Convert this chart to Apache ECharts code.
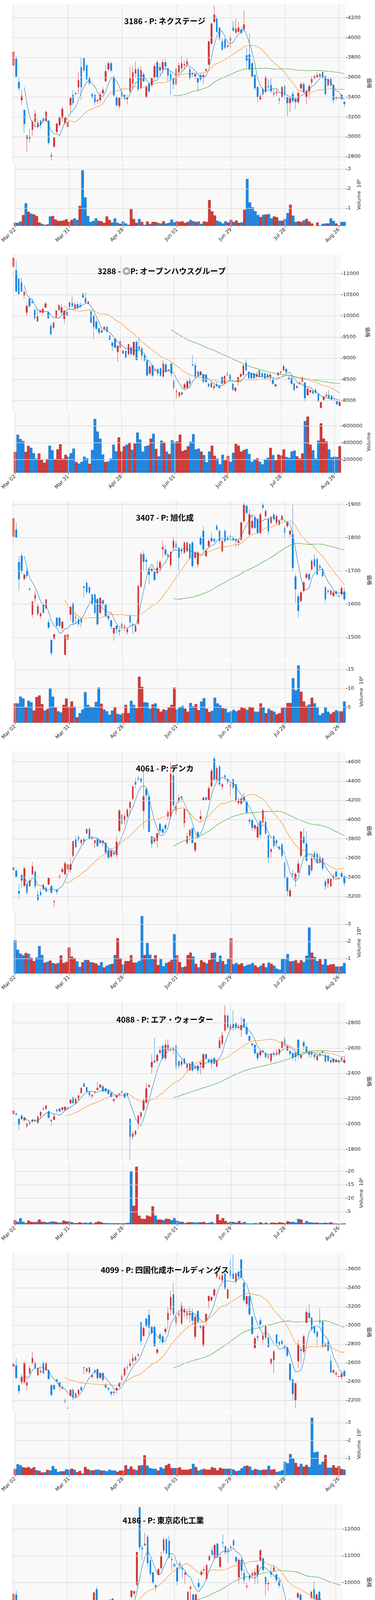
<!DOCTYPE html>
<html><head><meta charset="utf-8">
<script src="https://cdn.jsdelivr.net/npm/echarts@6/dist/echarts.min.js"></script>
<style>html,body{margin:0;padding:0;background:#fff}#c{width:960px;height:6405px}</style>
</head><body><div id="c"></div>
<script>
// ---------- DATA ----------
const dates = [
'Mar 02','Mar 03','Mar 04','Mar 07','Mar 08','Mar 09','Mar 10','Mar 11','Mar 14','Mar 15','Mar 16','Mar 17','Mar 18','Mar 22','Mar 23','Mar 24','Mar 25','Mar 28','Mar 29','Mar 30','Mar 31',
'Apr 01','Apr 04','Apr 05','Apr 06','Apr 07','Apr 08','Apr 11','Apr 12','Apr 13','Apr 14','Apr 15','Apr 18','Apr 19','Apr 20','Apr 21','Apr 22','Apr 25','Apr 26','Apr 27','Apr 28',
'May 02','May 06','May 09','May 10','May 11','May 12','May 13','May 16','May 17','May 18','May 19','May 20','May 23','May 24','May 25','May 26','May 27','May 30','May 31',
'Jun 01','Jun 02','Jun 03','Jun 06','Jun 07','Jun 08','Jun 09','Jun 10','Jun 13','Jun 14','Jun 15','Jun 16','Jun 17','Jun 20','Jun 21','Jun 22','Jun 23','Jun 24','Jun 27','Jun 28','Jun 29','Jun 30',
'Jul 01','Jul 04','Jul 05','Jul 06','Jul 07','Jul 08','Jul 11','Jul 12','Jul 13','Jul 14','Jul 15','Jul 19','Jul 20','Jul 21','Jul 22','Jul 25','Jul 26','Jul 27','Jul 28','Jul 29',
'Aug 01','Aug 02','Aug 03','Aug 04','Aug 05','Aug 08','Aug 09','Aug 10','Aug 12','Aug 15','Aug 16','Aug 17','Aug 18','Aug 19','Aug 22','Aug 23','Aug 24','Aug 25','Aug 26','Aug 29','Aug 30'];

const titles = ['3186 - P: ネクステージ','3288 - ◎P: オープンハウスグループ','3407 - P: 旭化成','4061 - P: デンカ','4088 - P: エア・ウォーター','4099 - P: 四国化成ホールディングス','4186 - P: 東京応化工業','4320 - S: CEホールディングス','4368 - P: 扶桑化学工業','4369 - P: トリケミカル研究所'];

// candles: [open, close, low, high]
const ohlc3186 = [[3718,3856,3710,3870],[3786,3608,3600,3815],[3550,3490,3460,3600],[3370,3410,3320,3470],[3270,3130,3040,3270],[2980,3010,2850,3020],[3000,2980,2940,3080],[3070,3150,3000,3170],[3150,3230,3100,3270],[3100,3140,3080,3180],
[3160,3120,3080,3170],[3180,3160,3140,3200],[3160,3250,3150,3260],[3160,2940,2920,3170],[2800,2810,2760,2840],[2900,2990,2890,3000],[3050,3130,3030,3140],[3120,3190,3100,3210],[3190,3280,3150,3300],[3140,3190,3120,3200],
[3100,3150,3090,3180],[3320,3390,3250,3400],[3420,3340,3320,3470],[3440,3430,3420,3450],[3500,3570,3430,3650],[3700,3500,3370,3800],[3790,3670,3650,3800],[3720,3580,3570,3730],[3590,3540,3520,3610],[3430,3400,3380,3440],
[3420,3350,3320,3440],[3360,3370,3330,3380],[3370,3420,3340,3450],[3440,3470,3420,3500],[3560,3660,3560,3720],[3680,3740,3660,3760],[3740,3670,3650,3760],[3600,3420,3400,3620],[3400,3320,3300,3420],[3310,3390,3280,3400],
[3450,3400,3380,3490],[3420,3390,3370,3430],[3380,3400,3330,3420],[3460,3590,3440,3700],[3540,3650,3500,3710],[3640,3680,3600,3760],[3680,3480,3460,3700],[3490,3670,3480,3710],[3630,3560,3550,3650],[3400,3500,3390,3520],
[3530,3460,3440,3540],[3520,3590,3500,3600],[3600,3710,3580,3740],[3750,3600,3590,3770],[3700,3670,3620,3740],[3680,3750,3640,3780],[3750,3710,3680,3790],[3690,3620,3560,3700],[3630,3580,3420,3660],[3590,3530,3480,3600],
[3530,3680,3520,3700],[3650,3720,3620,3750],[3690,3740,3660,3820],[3720,3730,3680,3770],[3730,3760,3700,3800],[3680,3590,3570,3700],[3640,3630,3600,3660],[3610,3630,3580,3650],[3590,3550,3450,3600],[3620,3580,3560,3640],
[3600,3620,3530,3640],[3670,3680,3650,3690],[3730,3960,3720,3970],[3940,4140,3930,4150],[4160,4230,4150,4320],[4190,4060,4050,4220],[4100,3990,3970,4110],[3960,3880,3870,3990],[3980,3900,3880,4000],[3910,3920,3890,3930],
[3970,4000,3900,4020],[4100,4070,4060,4170],[4050,4090,4040,4190],[4060,4100,4050,4160],[4080,4050,4030,4110],[4090,4130,4060,4270],[3820,3770,3700,3900],[3830,3680,3660,4040],[3740,3610,3590,3750],[3620,3490,3470,3630],
[3500,3400,3340,3510],[3380,3410,3360,3430],[3480,3430,3400,3500],[3450,3600,3450,3620],[3510,3500,3480,3580],[3520,3460,3440,3590],[3430,3440,3400,3480],[3440,3450,3410,3480],[3380,3370,3330,3400],[3400,3500,3390,3510],
[3510,3420,3380,3520],[3400,3340,3210,3410],[3340,3390,3250,3400],[3430,3360,3340,3460],[3380,3350,3280,3400],[3350,3440,3330,3460],[3490,3530,3460,3550],[3530,3450,3440,3550],[3400,3460,3330,3480],[3460,3510,3380,3530],
[3550,3580,3520,3610],[3590,3610,3580,3620],[3600,3620,3590,3650],[3610,3630,3600,3640],[3650,3600,3580,3660],[3610,3430,3420,3620],[3520,3580,3500,3590],[3580,3520,3500,3600],[3520,3370,3340,3530],[3390,3400,3370,3410],
[3400,3390,3380,3410],[3420,3380,3370,3430],[3350,3330,3300,3360]];
const vol3186 = [0.26,0.25,0.32,0.65,1.25,0.82,0.72,0.68,0.6,0.27,0.2,0.15,0.17,0.58,0.6,0.42,0.35,0.35,0.37,0.43,0.3,0.4,0.48,0.4,1.12,2.94,1.55,0.6,0.3,0.35,0.48,0.35,0.33,0.25,0.58,0.4,0.27,0.48,0.25,0.2,0.32,0.22,0.15,0.95,0.45,0.25,0.45,0.3,0.15,0.32,0.2,0.3,0.3,0.25,0.22,0.33,0.22,0.25,0.42,0.28,0.33,0.3,0.33,0.25,0.3,0.4,0.34,0.3,0.32,0.2,0.32,0.3,1.42,0.84,0.63,0.36,0.3,0.22,0.33,0.27,0.41,0.3,0.37,0.25,0.28,0.92,2.5,1.3,1.05,0.85,0.65,0.55,0.66,0.68,0.7,0.48,0.58,0.54,0.36,0.36,0.45,0.75,1.18,0.62,0.3,0.33,0.3,0.38,0.45,0.32,0.22,0.1,0.27,0.12,0.2,0.22,0.22,0.48,0.35,0.22,0.13,0.3,0.3];

const ohlc3288 = [[11160,11370,11110,11430],[11070,10580,10560,11300],[10880,10520,10500,10900],[10790,10580,10560,10900],[10480,10560,10400,10600],[10080,10230,10000,10300],[10400,10230,10200,10420],[10330,10310,10290,10400],[10140,9950,9910,10150],[9870,9990,9860,10180],
[10090,10120,10060,10160],[10080,10160,10050,10200],[10200,10290,10180,10330],[10080,9950,9930,10100],[9760,9570,9540,9820],[9720,9840,9690,9860],[9970,10120,9960,10150],[10140,10250,10120,10280],[10080,10200,10000,10280],[9930,10120,9820,10130],
[10100,10010,9990,10200],[10310,10220,10150,10340],[10300,10230,10200,10500],[10180,10270,10170,10330],[10270,10200,10150,10330],[10250,10220,10180,10320],[10520,10440,10420,10540],[10420,10310,10300,10560],[10290,10330,10280,10350],[10100,9840,9830,10150],
[10010,9740,9450,10050],[9860,9700,9650,9900],[9700,9610,9550,9720],[9650,9610,9600,9680],[9690,9740,9650,9750],[9740,9630,9610,9750],[9530,9440,9430,9560],[9360,9290,9170,9400],[9460,9250,9240,9470],[9150,9290,8920,9300],
[9250,9400,9240,9420],[9120,9170,9100,9200],[9170,9020,8980,9200],[9100,9330,9060,9340],[9250,9100,9050,9300],[9080,9380,9050,9400],[9380,8960,8950,9420],[9270,9210,9180,9500],[9230,9060,8950,9270],[9060,8950,8920,9090],
[8940,8600,8560,8950],[8640,8800,8600,8850],[8830,8590,8550,8850],[8710,8720,8690,8750],[8740,8640,8570,8760],[8760,8590,8560,8780],[8570,8870,8540,8950],[8850,8680,8650,8880],[8710,8720,8690,8750],[8870,8640,8560,8880],
[8470,8300,8250,8480],[8200,8210,8050,8280],[8110,8190,8060,8200],[8150,8180,8120,8210],[8300,8380,8250,8420],[8300,8450,8280,8480],[8470,8400,8340,8550],[8850,8830,8820,9070],[8830,8570,8530,8900],[8680,8590,8550,8700],
[8610,8680,8580,8700],[8610,8450,8400,8620],[8610,8440,8420,8620],[8390,8340,8310,8420],[8320,8410,8300,8440],[8300,8340,8240,8380],[8380,8340,8320,8440],[8340,8300,8280,8370],[8550,8400,8390,8560],[8410,8580,8390,8590],
[8600,8620,8580,8680],[8600,8490,8460,8650],[8390,8260,8230,8420],[8230,8300,8210,8320],[8450,8550,8350,8560],[8570,8620,8540,8650],[8610,8830,8590,8840],[8890,8720,8700,8980],[8680,8530,8510,8690],[8640,8530,8500,8660],
[8640,8530,8510,8650],[8570,8620,8530,8680],[8710,8570,8540,8730],[8640,8570,8540,8680],[8640,8530,8500,8660],[8620,8550,8520,8650],[8570,8610,8450,8640],[8500,8400,8370,8510],[8340,8380,8310,8400],[8600,8660,8580,8670],
[8650,8680,8630,8700],[8720,8810,8700,8850],[8740,8680,8650,8780],[8530,8510,8490,8600],[8530,8400,8380,8560],[8400,8250,8230,8420],[8300,8340,8280,8360],[8410,8430,8400,8450],[8450,8530,8440,8580],[8420,8060,7980,8440],
[8130,8280,8110,8300],[8200,8240,8180,8270],[8220,8170,8150,8260],[8250,8190,8160,8280],[8150,7980,7970,8160],[7830,7960,7820,7970],[8020,8090,8000,8110],[8110,8130,8070,8200],[8130,8060,8040,8250],[8110,8020,8000,8130],
[8020,8000,7990,8050],[7980,7920,7890,8000],[7880,7960,7860,8040]];
const vol3288 = [291000,495000,444000,420000,291000,362000,339000,276000,211000,272000,200000,162000,206000,364000,310000,206000,320000,381000,210000,257000,234000,276000,330000,171000,152000,173000,234000,215000,149000,314000,682000,533000,448000,259000,171000,177000,211000,377000,297000,463000,297000,358000,377000,396000,316000,390000,520000,438000,295000,358000,368000,448000,505000,326000,238000,425000,406000,295000,266000,429000,410000,415000,495000,301000,314000,358000,412000,501000,320000,330000,295000,253000,167000,295000,364000,244000,211000,143000,257000,192000,244000,173000,280000,387000,364000,295000,314000,326000,266000,173000,200000,215000,173000,143000,200000,221000,339000,253000,192000,259000,248000,320000,230000,221000,295000,307000,238000,211000,272000,657000,710000,377000,310000,211000,425000,630000,448000,415000,320000,225000,234000,230000,358000];

const ohlc3407 = [[1803,1858,1795,1862],[1824,1800,1798,1845],[1726,1675,1640,1745],[1746,1699,1690,1755],[1677,1688,1670,1693],[1702,1685,1680,1708],[1646,1644,1640,1650],[1569,1608,1560,1608],[1617,1627,1605,1640],[1571,1593,1565,1600],
[1564,1572,1555,1575],[1598,1574,1570,1605],[1588,1614,1585,1615],[1545,1530,1525,1555],[1492,1453,1445,1495],[1497,1509,1490,1512],[1559,1535,1530,1560],[1559,1535,1530,1560],[1528,1547,1520,1548],[1448,1506,1448,1510],
[1494,1509,1490,1530],[1569,1591,1550,1595],[1603,1545,1540,1605],[1559,1560,1540,1570],[1554,1540,1535,1560],[1554,1545,1530,1560],[1653,1649,1620,1656],[1664,1636,1630,1668],[1651,1635,1630,1653],[1629,1600,1595,1630],
[1629,1574,1570,1632],[1615,1540,1535,1618],[1574,1619,1570,1620],[1611,1601,1595,1615],[1598,1564,1560,1600],[1564,1557,1550,1568],[1551,1533,1525,1553],[1513,1528,1490,1530],[1535,1525,1510,1537],[1521,1518,1505,1530],
[1533,1541,1520,1545],[1533,1535,1520,1538],[1516,1525,1508,1530],[1564,1546,1535,1570],[1540,1538,1510,1545],[1518,1533,1515,1540],[1542,1654,1538,1660],[1653,1750,1650,1755],[1750,1728,1700,1760],[1733,1728,1700,1740],
[1706,1689,1660,1710],[1699,1706,1695,1712],[1697,1673,1670,1700],[1694,1709,1690,1730],[1709,1726,1695,1735],[1766,1771,1740,1790],[1764,1750,1745,1777],[1745,1748,1740,1755],[1718,1757,1712,1760],[1770,1790,1760,1803],
[1782,1770,1760,1790],[1770,1740,1700,1772],[1765,1760,1750,1770],[1755,1785,1750,1790],[1760,1785,1755,1790],[1780,1740,1735,1785],[1785,1715,1708,1790],[1740,1755,1735,1760],[1720,1755,1710,1760],[1800,1780,1775,1805],
[1820,1765,1760,1835],[1745,1760,1740,1765],[1775,1790,1770,1795],[1800,1790,1785,1815],[1795,1790,1785,1800],[1835,1825,1820,1840],[1820,1790,1785,1825],[1760,1790,1755,1795],[1820,1790,1785,1825],[1800,1795,1790,1805],
[1805,1800,1795,1810],[1800,1795,1790,1805],[1795,1790,1770,1800],[1785,1790,1775,1795],[1795,1845,1790,1850],[1850,1900,1845,1905],[1895,1875,1870,1900],[1810,1870,1805,1885],[1830,1850,1825,1870],[1860,1830,1825,1865],
[1855,1815,1810,1860],[1815,1870,1810,1875],[1900,1890,1885,1905],[1865,1880,1860,1885],[1855,1820,1810,1860],[1845,1860,1840,1865],[1870,1855,1850,1875],[1845,1865,1840,1870],[1840,1850,1835,1855],[1855,1865,1850,1870],
[1830,1815,1800,1835],[1835,1845,1830,1850],[1810,1820,1800,1825],[1810,1710,1700,1900],[1683,1645,1605,1690],[1623,1580,1560,1630],[1610,1635,1605,1640],[1640,1665,1635,1670],[1680,1690,1675,1695],[1690,1675,1670,1695],
[1705,1730,1700,1735],[1735,1715,1710,1750],[1735,1690,1685,1740],[1715,1710,1705,1720],[1705,1685,1680,1710],[1650,1615,1605,1655],[1640,1638,1630,1645],[1630,1640,1625,1645],[1625,1635,1620,1640],[1638,1632,1625,1642],
[1625,1623,1615,1630],[1630,1648,1625,1655],[1638,1615,1610,1650]];
const vol3407 = [6.0,6.0,7.8,7.3,5.0,6.7,6.3,4.1,7.7,8.1,5.8,4.1,4.5,10.1,7.8,5.0,3.9,3.6,5.6,7.3,5.1,6.5,5.1,2.3,3.4,4.4,9.0,5.6,5.1,5.0,6.4,10.2,5.9,4.4,3.9,3.0,4.1,5.0,3.2,3.0,3.4,5.6,3.4,6.7,5.6,4.7,13.1,10.4,6.3,6.2,4.6,5.7,6.0,4.6,3.8,4.4,4.2,5.0,5.6,10.2,4.4,5.0,5.3,4.6,3.8,6.1,5.2,5.8,4.2,6.5,7.4,4.6,3.7,4.0,7.5,6.0,5.5,4.7,4.6,3.6,3.9,4.3,3.9,4.2,5.0,4.7,4.3,5.1,4.9,3.8,3.8,6.0,5.0,3.4,4.6,4.1,3.8,3.1,3.4,4.8,5.0,6.1,6.1,12.7,9.5,16.1,9.1,6.5,5.3,5.7,7.5,6.0,5.0,2.9,3.4,5.0,3.8,3.2,3.7,4.2,3.9,3.9,6.5];

const ohlc4061 = [[3503,3475,3370,3530],[3467,3408,3390,3480],[3255,3233,3170,3330],[3422,3367,3290,3430],[3312,3492,3300,3510],[3333,3242,3220,3340],[3308,3367,3300,3380],[3433,3512,3420,3560],[3458,3308,3280,3470],[3217,3167,3150,3260],
[3245,3217,3200,3280],[3278,3320,3260,3340],[3292,3258,3240,3300],[3325,3392,3320,3400],[3308,3242,3230,3320],[3145,3150,3090,3170],[3267,3250,3220,3280],[3405,3408,3380,3430],[3458,3483,3440,3500],[3433,3545,3420,3570],
[3483,3533,3400,3560],[3480,3533,3450,3610],[3625,3775,3600,3780],[3792,3717,3700,3830],[3817,3792,3770,3840],[3758,3788,3740,3800],[3800,3775,3740,3820],[3858,3900,3850,3910],[3900,3800,3790,3920],[3800,3812,3790,3830],
[3758,3783,3700,3790],[3808,3725,3720,3810],[3783,3758,3740,3800],[3758,3778,3720,3790],[3758,3658,3640,3760],[3683,3600,3590,3700],[3617,3675,3600,3680],[3658,3642,3620,3670],[3633,3767,3600,3830],[3883,4092,3870,4110],
[4050,3958,3950,4060],[3992,4033,3950,4060],[4033,4100,4020,4120],[4125,4183,4050,4190],[4217,4345,4200,4350],[4392,4367,4330,4430],[4428,4420,4400,4460],[4425,4392,4380,4440],[4092,4242,3900,4500],[4317,4253,4190,4330],
[4237,3875,3870,4260],[3822,3750,3700,3830],[3775,3808,3750,3820],[3783,3858,3710,3860],[3955,3883,3860,3970],[3900,3867,3850,3920],[3942,3908,3890,3960],[4033,4075,4000,4100],[4033,4475,4000,4600],[4458,4150,4120,4530],
[4092,4142,4050,4170],[4192,4225,4170,4260],[4233,4225,4180,4250],[3967,4108,3920,4110],[3758,3825,3740,3860],[3833,3892,3780,3900],[3908,3758,3750,3920],[3683,3758,3660,3770],[3867,3825,3800,3880],[4008,4033,3980,4100],
[4205,4225,4200,4240],[4228,4208,4200,4240],[4208,4325,4200,4350],[4350,4508,4330,4530],[4633,4417,4400,4660],[4417,4533,4390,4560],[4550,4367,4350,4570],[4342,4367,4310,4380],[4458,4442,4420,4470],[4417,4392,4370,4430],
[4350,4362,4250,4400],[4417,4333,4320,4430],[4367,4200,4180,4370],[4175,4192,4150,4230],[4167,4217,4150,4240],[4233,4192,4180,4280],[4183,4075,4060,4190],[4000,3983,3950,4020],[3992,3917,3880,4010],[3908,3942,3880,3950],
[3817,3925,3780,3960],[3983,3842,3800,4000],[3975,4095,3950,4110],[3975,3858,3840,4030],[3833,3600,3550,3840],[3667,3692,3600,3700],[3825,3725,3700,3840],[3783,3758,3740,3800],[3717,3700,3680,3730],[3742,3625,3600,3760],
[3550,3400,3380,3560],[3400,3258,3200,3410],[3200,3262,3190,3290],[3437,3433,3400,3480],[3383,3433,3300,3450],[3450,3542,3440,3580],[3625,3875,3600,3880],[3817,3758,3740,3910],[3750,3575,3560,3880],[3525,3425,3410,3530],
[3475,3600,3450,3620],[3650,3592,3580,3670],[3642,3550,3540,3670],[3558,3608,3540,3640],[3600,3492,3470,3610],[3358,3308,3270,3380],[3333,3383,3290,3390],[3308,3383,3300,3390],[3392,3408,3370,3440],[3458,3408,3390,3470],
[3383,3392,3360,3400],[3440,3410,3390,3460],[3410,3340,3310,3420]];
const vol4061 = [2.07,1.51,1.29,1.2,1.33,1.28,1.05,0.86,1.07,1.73,1.21,0.77,0.82,0.89,0.75,0.7,0.75,1.19,0.75,0.81,1.65,1.12,1.03,0.84,0.52,0.79,0.92,0.92,0.8,0.77,0.72,0.61,0.8,0.49,0.59,0.66,0.7,1.21,2.19,1.03,0.66,0.86,0.86,1.2,0.77,0.77,0.87,3.47,1.21,1.91,1.23,0.98,1.2,0.63,1.0,0.56,0.75,0.81,0.93,2.42,1.2,0.8,0.5,0.54,1.21,1.35,1.12,0.7,0.5,0.91,0.8,0.72,0.92,1.33,1.35,0.81,1.17,0.86,0.67,1.01,2.19,0.68,0.75,0.66,0.73,0.56,0.63,0.67,0.75,0.61,0.5,0.59,0.72,0.5,0.77,0.7,0.59,0.42,0.36,0.98,1.0,1.26,0.84,0.86,0.91,0.75,0.91,0.8,1.17,2.81,1.35,1.1,0.86,0.98,0.66,1.0,0.61,0.67,0.68,0.54,0.54,0.56,0.75];

const ohlc4088 = [[2080,2105,2070,2115],[2080,2075,2070,2090],[2040,1995,1955,2045],[2065,2040,2030,2075],[2030,2050,2020,2055],[1985,2005,1965,2010],[2000,2010,1990,2020],[2020,2035,2010,2040],[2030,2025,2015,2040],[2010,2055,2000,2070],
[2065,2095,2040,2100],[2120,2115,2110,2140],[2120,2145,2110,2150],[2100,2050,2045,2105],[2030,2025,1985,2040],[2035,2060,2030,2080],[2110,2105,2090,2120],[2120,2100,2095,2130],[2115,2130,2100,2135],[2110,2135,2105,2140],
[2130,2120,2100,2140],[2165,2190,2160,2200],[2210,2165,2160,2215],[2165,2200,2155,2210],[2195,2225,2190,2230],[2245,2285,2240,2290],[2320,2295,2290,2325],[2290,2255,2250,2295],[2250,2230,2215,2260],[2220,2230,2205,2235],
[2250,2255,2235,2260],[2270,2285,2265,2335],[2290,2310,2280,2315],[2295,2260,2250,2310],[2280,2260,2245,2285],[2265,2240,2230,2270],[2245,2215,2210,2250],[2185,2195,2170,2200],[2210,2225,2200,2230],[2240,2235,2220,2245],
[2250,2260,2240,2265],[2240,2210,2205,2245],[2240,2230,2220,2250],[2040,1900,1715,2045],[1900,1925,1880,1940],[1920,1945,1905,1950],[2000,2065,1960,2070],[2060,2090,2040,2100],[2110,2185,2100,2200],[2170,2280,2160,2325],
[2295,2305,2290,2320],[2450,2490,2400,2550],[2500,2490,2480,2680],[2500,2545,2480,2560],[2565,2580,2550,2610],[2615,2520,2510,2630],[2520,2625,2500,2665],[2590,2625,2580,2670],[2600,2595,2570,2610],[2600,2590,2550,2610],
[2620,2460,2430,2625],[2495,2460,2440,2500],[2470,2495,2450,2510],[2515,2480,2470,2530],[2445,2470,2420,2480],[2425,2470,2420,2490],[2490,2425,2410,2500],[2450,2440,2430,2460],[2460,2425,2400,2470],[2470,2485,2390,2490],
[2445,2550,2430,2560],[2550,2520,2510,2560],[2505,2490,2480,2520],[2505,2480,2440,2520],[2520,2480,2470,2530],[2455,2500,2450,2510],[2600,2660,2590,2690],[2635,2700,2620,2730],[2740,2860,2730,2940],[2855,2765,2750,2870],
[2745,2780,2740,2790],[2790,2760,2740,2900],[2795,2760,2745,2805],[2760,2765,2750,2790],[2745,2780,2690,2850],[2830,2770,2760,2840],[2765,2710,2700,2805],[2695,2660,2650,2700],[2635,2625,2610,2640],[2625,2560,2550,2630],
[2560,2520,2500,2570],[2545,2575,2530,2580],[2580,2570,2560,2590],[2560,2530,2520,2570],[2530,2533,2510,2560],[2500,2555,2480,2560],[2553,2560,2530,2580],[2557,2563,2540,2590],[2557,2590,2540,2600],[2600,2650,2590,2660],
[2670,2620,2610,2690],[2585,2615,2570,2630],[2575,2555,2540,2590],[2560,2525,2500,2570],[2560,2530,2490,2570],[2665,2545,2510,2670],[2525,2545,2515,2550],[2645,2615,2580,2660],[2610,2575,2560,2620],[2570,2550,2520,2580],
[2570,2550,2525,2580],[2550,2530,2510,2560],[2505,2540,2500,2545],[2555,2545,2530,2560],[2575,2565,2555,2580],[2545,2495,2485,2550],[2540,2500,2490,2545],[2490,2505,2480,2510],[2515,2490,2480,2520],[2490,2505,2485,2515],
[2505,2485,2475,2515],[2520,2510,2500,2530],[2485,2505,2480,2540]];
const vol4088 = [1.85,1.25,2.6,1.25,0.8,1.7,1.25,1.1,1.25,2.1,1.25,1.25,0.95,1.25,1.4,1.25,0.95,0.95,1.7,1.4,1.4,1.1,0.8,0.8,1.1,0.8,0.95,0.8,1.1,0.6,1.1,1.4,1.1,0.8,0.75,0.75,0.7,0.7,0.7,0.7,0.7,0.8,0.9,20.0,7.2,21.7,3.5,2.4,2.3,3.6,3.2,7.0,3.6,2.1,2.1,1.85,2.4,2.3,1.85,2.6,1.7,1.25,1.25,0.8,1.1,1.1,1.1,0.95,1.1,1.1,1.2,0.8,0.95,1.2,0.65,4.0,1.85,2.6,1.55,0.95,1.3,1.2,0.95,1.55,0.8,1.2,0.65,0.65,0.65,0.8,0.65,1.1,0.65,0.95,0.55,0.95,0.95,0.8,1.1,0.95,0.8,1.5,1.2,1.25,0.95,2.3,2.1,0.8,1.55,1.1,1.0,0.95,0.95,0.8,0.8,0.95,0.8,1.1,0.65,0.6,0.55,0.6,0.65];

const ohlc4099 = [[2560,2590,2540,2610],[2570,2440,2430,2650],[2360,2300,2270,2370],[2390,2450,2370,2480],[2390,2600,2370,2610],[2360,2390,2310,2410],[2490,2540,2470,2570],[2600,2650,2580,2720],[2600,2550,2530,2620],[2470,2540,2460,2550],
[2500,2510,2490,2540],[2600,2490,2480,2620],[2520,2600,2510,2610],[2520,2430,2420,2530],[2360,2260,2240,2370],[2360,2320,2310,2380],[2420,2400,2380,2430],[2390,2350,2300,2400],[2330,2340,2310,2360],[2200,2190,2170,2220],
[2120,2115,2100,2160],[2250,2310,2240,2320],[2310,2230,2200,2330],[2240,2270,2230,2290],[2270,2310,2260,2320],[2340,2310,2300,2350],[2545,2550,2480,2560],[2510,2540,2490,2550],[2550,2500,2480,2560],[2450,2470,2430,2480],
[2520,2500,2480,2530],[2530,2440,2410,2540],[2440,2490,2430,2500],[2490,2420,2400,2500],[2360,2340,2330,2380],[2330,2320,2300,2340],[2290,2270,2240,2300],[2290,2280,2250,2310],[2310,2330,2270,2340],[2350,2380,2330,2400],
[2420,2460,2410,2480],[2470,2540,2450,2560],[2550,2545,2520,2580],[2570,2600,2550,2640],[2620,2650,2580,2700],[2660,2630,2610,2680],[2680,2690,2660,2700],[3030,2830,2780,3040],[2890,2970,2880,2990],[3070,2990,2980,3080],
[3110,2980,2900,3170],[2980,2920,2900,3000],[2980,2780,2770,3000],[2710,2740,2690,2760],[2900,2860,2810,2920],[2880,2820,2790,2900],[2930,2960,2900,2980],[3060,3130,2960,3200],[3170,3300,3100,3370],[3330,3120,3100,3450],
[3030,3090,2990,3100],[3110,3120,3080,3150],[3020,3210,3010,3250],[3140,3170,3090,3190],[3110,3130,3070,3180],[3110,3130,3030,3190],[3130,3050,3000,3180],[2880,3090,2850,3100],[3150,3040,3020,3160],[2990,2980,2960,3010],
[2790,3000,2770,3010],[3050,3120,3000,3130],[3260,3310,3180,3320],[3270,3300,3250,3310],[3320,3380,3300,3400],[3520,3560,3500,3600],[3500,3510,3480,3540],[3480,3530,3460,3570],[3550,3390,3380,3600],[3290,3380,3280,3400],
[3590,3530,3500,3700],[3550,3500,3490,3750],[3470,3550,3440,3560],[3570,3520,3500,3580],[3700,3510,3500,3710],[3450,3270,3250,3460],[3230,3310,3200,3320],[3310,3120,3100,3320],[3090,2910,2900,3100],[2760,2860,2750,2880],
[2880,2870,2830,2900],[3050,3010,2990,3080],[2850,2890,2790,2910],[2870,2990,2850,3010],[2870,2770,2760,2880],[2590,2640,2580,2650],[2630,2720,2490,2740],[2900,2810,2800,2910],[2820,2790,2780,2830],[2830,2800,2790,2850],
[2780,2750,2740,2800],[2760,2680,2660,2770],[2590,2420,2400,2600],[2420,2270,2200,2430],[2200,2380,2120,2390],[2620,2800,2540,2840],[2740,2730,2600,2760],[2720,2880,2700,2900],[3030,3140,3020,3180],[3130,3080,3060,3230],
[3080,2960,2950,3090],[2990,2920,2910,3000],[2930,2880,2780,2940],[3040,3030,2990,3180],[3040,2780,2760,3050],[2780,2800,2760,2820],[2820,2730,2720,2840],[2620,2500,2490,2680],[2500,2520,2480,2530],[2480,2490,2450,2510],
[2450,2460,2420,2480],[2450,2480,2420,2500],[2510,2460,2450,2530]];
const vol4099 = [0.39,0.66,0.6,0.49,0.46,0.5,0.41,0.49,0.32,0.28,0.19,0.21,0.34,0.3,0.55,0.39,0.23,0.26,0.26,0.37,0.35,0.41,0.35,0.21,0.28,0.14,0.5,0.37,0.31,0.31,0.35,0.35,0.3,0.3,0.26,0.35,0.3,0.3,0.23,0.3,0.3,0.6,0.39,0.53,0.37,0.32,0.58,0.6,1.16,0.58,0.44,0.4,0.4,0.3,0.49,0.41,0.6,0.68,0.44,0.44,0.44,0.48,0.35,0.35,0.35,0.39,0.68,0.5,0.3,0.35,0.4,0.35,0.35,0.49,0.44,0.32,0.46,0.4,0.4,0.4,0.41,0.35,0.26,0.3,0.43,0.55,0.58,0.52,0.32,0.39,0.35,0.32,0.35,0.35,0.57,0.35,0.37,0.22,0.26,0.32,0.8,0.71,1.23,1.0,0.73,0.52,0.68,0.52,0.62,0.5,3.28,1.33,1.36,0.64,0.8,1.18,0.46,0.46,0.6,0.46,0.55,0.39,0.35];

const ohlc4186 = [[9000,9580,8980,9600],[9550,9080,9050,9700],[8580,8500,8350,9020],[9150,8800,8700,9220],[8610,8850,8550,8900],[7880,7660,7420,8000],[8000,7990,7870,8150],[8250,8350,8230,8500],[8280,8170,8100,8300],[7920,8070,7880,8120],
[8150,8350,8100,8380],[8630,8380,8350,8700],[8600,8620,8580,8650],[8270,8180,8130,8300],[7950,7880,7720,8000],[8170,8050,7800,8200],[8350,8420,8300,8450],[8550,8130,8100,8580],[7980,7970,7850,8000],[7550,7650,7500,7700],
[7200,7330,7130,7340],[7800,7780,7600,7850],[7960,7450,7420,7980],[7600,7680,7550,7750],[7620,7760,7600,7850],[7760,7700,7650,7800],[8550,8900,8400,8900],[8710,8660,8600,8800],[8780,9070,8740,9150],[9030,9050,9000,9120],
[9350,9630,9300,9650],[9750,9270,9200,9850],[9150,9250,9100,9300],[9250,8980,8920,9300],[9150,8950,8900,9200],[9240,9320,9200,9330],[9200,9370,9150,9380],[9400,9200,9100,9420],[9240,8850,8780,9300],[9050,8980,8850,9150],
[8950,9020,8880,9100],[9050,9100,8980,9150],[9000,8950,8880,9050],[8900,8890,8850,8950],[9480,9700,9400,9730],[9600,9680,9500,9700],[9930,11140,9850,11150],[12800,11320,11200,12850],[11300,11250,10850,11400],[11400,11450,11350,11860],
[11710,10730,10600,11800],[10830,10340,10250,10900],[10380,10000,9950,10400],[9900,9850,9700,9950],[10300,10500,10250,10550],[10550,11000,10500,11150],[11200,11600,11100,11700],[11620,11100,11050,11650],[11560,10950,10900,11750],[10880,10850,10450,11000],
[10700,10600,10350,10800],[10550,10050,9900,10600],[10700,10680,10450,10800],[10550,10500,10150,10650],[10300,10380,9950,10400],[9350,9650,9300,9700],[9780,9840,9350,9900],[9550,9350,9200,9600],[8950,9550,8650,9600],[10000,9850,9750,10150],
[10300,10400,10250,10500],[10500,10450,10400,10600],[10150,10650,10100,10700],[10850,11000,10800,11050],[11200,11050,11000,11350],[10950,11400,10900,11450],[11450,10950,10900,11500],[10600,10950,10550,11050],[11500,11480,11300,11800],[11350,11130,11050,11400],
[11250,11150,10750,11300],[11300,11330,11250,11400],[11570,11400,11350,11620],[10950,10800,10700,11000],[10200,10850,9950,10900],[10850,10450,10250,10950],[10350,10100,9950,10500],[9850,9880,9750,10000],[10250,10150,10050,10300],[10300,10350,10250,10450],
[10300,10380,9950,10550],[10300,10650,9950,10700],[10830,11200,10800,11250],[10900,10480,10400,10950],[10200,9950,9500,10250],[9950,10000,9700,10100],[10400,10300,10200,10600],[10450,10560,10400,10650],[10300,10100,10000,10350],[10050,9900,9800,10100],
[9350,9000,8950,9400],[9000,8350,8200,9050],[8300,8380,7980,8700],[8950,8850,8700,9400],[8650,8800,8600,8850],[8950,9200,8900,9250],[9450,9600,9400,9650],[9550,8950,8900,9600],[8950,8800,8500,9050],[9050,9030,8950,9100],
[9000,9200,8950,9250],[9450,9650,9400,9700],[9750,9400,9350,10050],[9350,9550,9300,9600],[9650,9300,9250,9700],[8680,8730,8650,8800],[8820,8850,8750,8900],[8600,8650,8550,8750],[8680,8620,8580,8700],[8550,8720,8450,8750],
[8650,8700,8580,8750],[8860,8750,8700,8900],[8750,8600,8580,8850]];
const vol4186 = [1.62,1.62,1.49,1.23,0.77,2.25,1.18,0.97,0.83,0.76,1.06,0.94,0.72,1.29,1.01,0.74,0.69,0.77,0.94,1.11,1.2,0.81,0.94,0.5,0.69,0.58,1.87,1.29,1.29,0.89,1.35,1.54,1.01,0.94,0.74,0.83,1.03,1.49,1.18,0.89,0.6,0.86,0.33,1.62,1.35,4.17,2.64,1.4,1.18,1.41,0.95,1.23,1.0,1.34,1.06,1.01,0.89,0.92,0.89,1.35,0.98,1.06,0.92,0.74,0.74,1.18,1.17,0.9,1.42,1.12,0.83,0.6,0.92,1.11,0.64,0.84,0.69,1.01,0.86,0.86,0.67,0.67,0.64,0.84,0.72,0.72,1.01,0.74,1.11,0.86,1.09,0.78,0.9,1.26,0.78,0.74,0.77,0.72,0.77,1.06,1.35,2.14,1.83,0.84,0.77,1.12,0.85,1.85,1.69,0.86,1.03,1.57,1.23,0.56,0.72,0.81,0.66,0.69,0.52,0.52,0.41,0.61,0.5];

const ohlc4320 = [[1270,1265,1260,1305],[1230,1280,1225,1335],[1285,1195,1190,1290],[1270,1268,1240,1280],[1245,1285,1240,1290],[1240,1225,1220,1245],[1250,1245,1230,1270],[1255,1260,1245,1280],[1245,1235,1225,1255],[1215,1200,1195,1220],
[1195,1205,1170,1215],[1200,1198,1195,1210],[1200,1215,1195,1220],[1190,1195,1175,1200],[1170,1195,1165,1200],[1215,1210,1205,1230],[1230,1238,1225,1250],[1240,1215,1210,1245],[1220,1225,1210,1240],[1185,1225,1180,1230],
[1190,1210,1170,1215],[1230,1250,1225,1255],[1275,1265,1260,1280],[1275,1265,1255,1295],[1265,1255,1245,1270],[1240,1250,1235,1260],[1270,1255,1250,1275],[1255,1245,1240,1260],[1240,1215,1210,1245],[1205,1195,1185,1210],
[1195,1205,1190,1210],[1210,1205,1200,1240],[1215,1200,1190,1240],[1215,1200,1190,1220],[1205,1195,1185,1210],[1200,1180,1175,1205],[1175,1180,1165,1185],[1180,1160,1155,1185],[1175,1150,1140,1180],[1155,1160,1150,1165],
[1155,1160,1150,1170],[1175,1200,1170,1205],[1195,1190,1185,1200],[1200,1220,1195,1230],[1205,1215,1195,1220],[1185,1195,1180,1210],[1185,1200,1180,1215],[1195,1210,1190,1215],[1200,1200,1195,1210],[1502,1500,1499,1502],
[1515,1700,1510,1700],[1660,1655,1620,1670],[1645,1655,1640,1690],[1650,1660,1645,1700],[1660,1650,1640,1665],[1650,1635,1630,1660],[1640,1655,1635,1660],[1650,1660,1645,1670],[1655,1670,1650,1680],[1660,1675,1655,1680],
[1665,1730,1660,1735],[1725,1710,1700,1730],[1710,1695,1690,1715],[1705,1700,1695,1710],[1700,1710,1695,1715],[1690,1675,1670,1695],[1680,1655,1650,1685],[1660,1650,1645,1670],[1650,1655,1645,1660],[1635,1645,1630,1650],
[1650,1710,1645,1740],[1720,1790,1715,1820],[1790,1815,1785,1855],[1845,1790,1780,1850],[1760,1785,1755,1790],[1750,1770,1745,1820],[1810,1745,1735,1820],[1730,1760,1725,1780],[1760,1765,1755,1775],[1770,1760,1755,1775],
[1760,1765,1755,1800],[1775,1760,1750,1780],[1760,1770,1755,1800],[1765,1780,1755,1805],[1770,1740,1735,1775],[1750,1720,1710,1760],[1720,1735,1700,1750],[1770,1760,1700,1775],[1730,1750,1725,1760],[1745,1760,1740,1775],
[1760,1770,1755,1790],[1770,1790,1765,1800],[1790,1800,1785,1810],[1800,1790,1785,1805],[1800,1780,1770,1805],[1780,1740,1735,1785],[1760,1720,1710,1765],[1720,1740,1715,1745],[1740,1715,1710,1745],[1720,1700,1690,1725],
[1690,1705,1680,1710],[1700,1680,1670,1705],[1710,1665,1625,1715],[1680,1690,1650,1705],[1700,1720,1650,1730],[1750,1720,1715,1755],[1645,1650,1640,1655],[1648,1655,1645,1660],[1651,1650,1648,1652],[1651,1650,1648,1652],
[1660,1658,1655,1662],[1658,1656,1655,1660],[1660,1656,1654,1662],[1660,1670,1655,1685],[1665,1675,1660,1680],[1665,1664,1660,1668],[1664,1662,1660,1666],[1660,1658,1656,1662],[1658,1656,1654,1660],[1656,1654,1652,1658],
[1655,1652,1650,1657],[1652,1650,1648,1655],[1654,1650,1646,1656]];
const vol4320 = [0.04,0.03,0.1,0.04,0.01,0.03,0.01,0.01,0.01,0.07,0.03,0.03,0.01,0.03,0.12,0.01,0.03,0.01,0.01,0.03,0.05,0.01,0.02,0.02,0.01,0.01,0.01,0.005,0.005,0.02,0.005,0.005,0.005,0.01,0.005,0.01,0.02,0.01,0.01,0.015,0.02,0.01,0.02,0.02,0.02,0.02,0.04,0.025,0.015,0.02,0.47,0.15,0.06,0.06,0.02,0.025,0.015,0.015,0.015,0.08,0.035,0.025,0.04,0.02,0.015,0.015,0.01,0.01,0.01,0.015,0.17,0.025,0.025,0.015,0.015,0.01,0.005,0.005,0.005,0.005,0.005,0.02,0.025,0.03,0.04,0.005,0.005,0.005,0.005,0.02,0.025,0.005,0.005,0.03,0.005,0.005,0.02,0.005,0.005,0.015,0.015,0.015,0.015,0.02,0.015,0.02,0.055,1.13,0.5,0.17,0.18,0.1,0.12,0.2,0.05,0.09,0.31,0.1,0.1,0.07,0.03,0.05,0.25];

const ohlc4368 = [[3070,3260,3050,3290],[3270,3180,3170,3450],[3060,2960,2880,3140],[3100,3110,3080,3180],[3050,3120,3000,3150],[2860,2750,2700,2880],[2910,2915,2890,3000],[2990,3030,2970,3050],[3000,2985,2960,3010],[2870,2950,2850,2960],
[2980,3070,2960,3090],[3130,2970,2960,3140],[3040,3080,3000,3100],[2930,2880,2860,2950],[2880,2870,2800,2900],[2750,2780,2720,2820],[2890,2870,2840,2900],[2950,3000,2930,3010],[3000,2930,2900,3010],[2880,2910,2860,2920],
[2670,2800,2660,2810],[2700,2730,2640,2800],[2840,2890,2830,2900],[2890,2800,2780,2900],[2820,2850,2810,2870],[2830,2840,2810,2880],[2860,2850,2830,2880],[2990,3040,2980,3060],[3050,2990,2980,3070],[2980,3000,2970,3010],
[3000,2940,2930,3010],[3020,3015,3010,3100],[3130,3050,3040,3180],[3130,3060,3050,3140],[3050,3130,3040,3140],[3080,3060,3040,3090],[3040,3050,3030,3070],[3000,2910,2860,3010],[3020,3030,3000,3040],[3100,3180,3090,3190],
[3120,3250,3110,3270],[3200,3240,3190,3260],[3200,3160,3150,3210],[3260,3300,3250,3420],[3300,3240,3230,3310],[3050,3300,3030,3330],[4000,3995,3990,4000],[4150,4420,4140,4480],[4390,4200,4180,4430],[4230,4050,4030,4250],
[4050,3980,3900,4060],[3990,3900,3860,4000],[3900,3930,3890,4020],[3830,3720,3680,3850],[3940,3950,3920,3960],[4330,4190,4180,4350],[4110,4350,4100,4430],[4410,4390,4380,4440],[4550,4410,4400,4650],[4380,4330,4250,4400],
[4270,4440,4200,4450],[4350,4420,4330,4720],[4520,4310,4150,4570],[4380,4360,4240,4530],[4280,4210,4180,4300],[4100,4130,3950,4150],[3870,3920,3830,3960],[3920,3900,3800,3950],[3750,3680,3660,3790],[3600,3830,3590,3850],
[3970,3860,3850,4000],[4080,4060,4050,4100],[4010,4090,3980,4130],[4000,4100,3970,4130],[4390,4420,4200,4530],[4600,4590,4550,4630],[4630,4900,4610,4950],[4940,4590,4580,4960],[4550,4560,4470,4700],[4700,4750,4680,4990],
[4760,4670,4640,4850],[4680,4570,4350,4700],[4620,4520,4450,4630],[4570,4610,4520,4640],[4470,4280,4270,4480],[4140,4310,4130,4320],[4330,4290,4270,4350],[4270,4040,4020,4280],[3920,3960,3880,4140],[4030,4000,3990,4040],
[4220,4040,4000,4240],[4360,4000,3900,4380],[4030,4040,3930,4050],[4100,4280,4050,4290],[4170,4080,4060,4190],[3870,3880,3740,3960],[3960,3980,3850,4000],[4200,4070,4050,4220],[4080,4090,4060,4100],[3970,3950,3900,3980],
[4000,3920,3880,4010],[3690,3520,3480,3700],[3600,3280,3200,3610],[3280,3350,3250,3370],[3720,3770,3700,3830],[3670,3760,3610,3780],[3800,3910,3780,3940],[4010,4250,4000,4280],[4150,3950,3940,4220],[3980,3880,3700,3990],
[3250,3350,3240,3480],[3420,3400,3380,3440],[3470,3500,3440,3530],[3570,3440,3420,3580],[3450,3520,3420,3530],[3550,3400,3380,3590],[3250,3140,3130,3310],[3050,3220,3040,3230],[3180,3080,3070,3190],[3000,3040,3000,3080],
[3000,3050,2980,3060],[3100,3060,3030,3120],[3050,2980,2970,3070]];
const vol4368 = [0.79,1.71,0.97,0.77,0.52,1.1,0.5,0.59,0.46,0.64,1.02,0.5,0.4,0.59,0.52,0.43,0.52,0.35,0.52,0.39,0.74,0.42,0.41,0.32,0.28,0.42,0.47,0.57,0.47,0.72,0.55,0.4,0.32,0.25,0.17,0.32,0.59,0.61,0.79,0.48,0.64,0.52,0.76,0.81,1.14,0.26,2.54,1.56,1.17,0.81,1.09,0.59,0.59,0.57,0.77,0.57,0.46,0.61,1.26,1.9,0.92,0.55,0.74,0.68,0.64,0.52,0.62,0.55,0.43,0.42,1.38,0.95,0.92,0.72,0.85,1.21,0.59,0.59,0.45,0.64,0.79,0.4,0.46,0.59,0.59,0.37,0.52,0.64,0.59,0.59,0.46,1.21,0.87,0.5,0.48,0.68,0.78,1.63,0.88,0.59,1.19,0.64,0.64,0.73,0.74,1.34,2.11,1.02,1.0,0.95,0.64,0.81,1.74,1.48,1.56,0.97,1.17,0.71,0.7,0.55,0.71,0.7,0.7];

const ohlc4369 = [[3590,3700,3580,3720],[3700,3410,3400,3750],[3300,3230,3180,3310],[3410,3360,3340,3470],[3330,3380,3250,3400],[3098,3102,2950,3150],[3240,3220,3170,3260],[3250,3240,3200,3280],[3200,3130,3110,3250],[2990,3050,2980,3080],
[2625,2610,2480,2740],[2710,2705,2640,2760],[2700,2695,2650,2740],[2680,2630,2620,2700],[2550,2590,2540,2610],[2700,2695,2620,2720],[2760,2800,2750,2820],[2790,2740,2730,2810],[2630,2730,2620,2740],[2600,2650,2590,2680],
[2620,2630,2600,2650],[2720,2750,2710,2770],[2800,2720,2690,2810],[2770,2730,2710,2780],[2730,2745,2720,2770],[2880,2995,2870,3000],[2970,2900,2880,2990],[2990,3000,2970,3010],[2930,2960,2900,2970],[3030,3060,3020,3080],
[3100,3000,2990,3130],[3080,3150,3050,3160],[3140,3170,3130,3180],[3150,3120,3100,3170],[3180,3250,3170,3260],[3270,3350,3260,3360],[3180,3220,3170,3230],[3250,3200,3180,3260],[3270,3160,3150,3290],[3280,3420,3270,3440],
[3370,3390,3360,3520],[3370,3270,3250,3380],[3160,3080,3060,3170],[3280,3360,3230,3380],[3200,3300,3190,3320],[3350,3400,3330,3420],[3440,3520,3430,3580],[3430,3600,3420,3610],[3500,3410,3390,3520],[3460,3420,3350,3470],
[3380,3310,3300,3400],[3250,3240,3220,3270],[3350,3280,3270,3360],[3410,3480,3400,3500],[3730,3810,3700,3820],[3870,3740,3720,3900],[3870,3760,3740,3880],[3560,3720,3520,3750],[3740,3770,3720,3790],[3760,3780,3740,3800],
[4200,4020,4000,4470],[4160,4060,3910,4200],[4140,4120,4100,4180],[4100,4110,4050,4190],[4150,3930,3880,4170],[3620,3550,3500,3640],[3640,3450,3430,3660],[3400,3300,3250,3420],[3170,3310,3150,3320],[3480,3490,3440,3530],
[3760,3810,3740,3820],[3810,3760,3740,3820],[3700,3930,3690,3940],[4000,3850,3820,4040],[3870,3830,3800,3880],[3810,3900,3800,4000],[3980,3680,3670,4000],[3590,3530,3450,3600],[3800,3660,3650,3810],[3480,3490,3380,3500],
[3490,3470,3330,3520],[3530,3490,3480,3540],[3560,3590,3550,3660],[3590,3530,3520,3620],[3450,3630,3380,3640],[3620,3430,3420,3640],[3430,3260,3240,3440],[3190,3170,3150,3210],[3210,3260,3180,3290],[3350,3330,3300,3380],
[3320,3300,3270,3360],[3250,3360,3230,3380],[3410,3600,3390,3630],[3520,3380,3360,3530],[3380,3190,3030,3390],[3210,3280,3160,3300],[3380,3340,3330,3390],[3410,3380,3360,3450],[3320,3270,3250,3340],[3330,3380,3320,3390],
[3290,3040,3030,3320],[3030,2880,2780,3040],[2880,2910,2800,2980],[3200,3260,3110,3300],[3150,3250,3140,3270],[3330,3410,3310,3420],[3530,3670,3500,3680],[3640,3470,3460,3750],[3410,3350,3270,3420],[3430,3360,3340,3440],
[3310,3350,3270,3360],[3410,3400,3380,3420],[3440,3370,3360,3450],[3370,3440,3360,3450],[3430,3390,3380,3560],[3240,3140,3120,3260],[3180,3230,3130,3240],[3160,3170,3110,3180],[3230,3200,3180,3260],[3150,3240,3110,3250],
[3200,3195,3150,3210],[3260,3240,3220,3290],[3230,3140,3130,3250]];
const vol4369 = [0.78,0.97,0.72,0.75,0.44,0.94,0.46,0.54,0.43,0.61,4.07,2.37,0.87,0.8,1.03,0.83,0.75,0.49,0.66,0.53,0.57,0.54,0.55,0.4,0.29,0.29,0.69,0.58,0.63,0.35,0.49,0.49,0.47,0.35,0.35,0.44,0.35,0.4,0.44,0.64,0.83,1.06,0.8,1.19,0.74,0.64,0.72,0.87,0.92,0.61,0.61,0.66,0.57,0.47,0.47,0.85,0.61,0.61,0.85,1.45,3.3,1.11,1.11,0.78,0.78,1.11,0.83,0.7,0.64,0.61,0.4,0.47,0.55,0.55,0.36,0.47,0.53,0.47,0.49,0.52,0.47,0.55,0.47,0.58,0.61,0.58,0.55,0.47,0.35,0.63,0.35,0.3,0.69,0.36,0.61,0.49,0.66,0.38,0.4,0.25,0.27,0.38,0.58,0.92,0.72,0.87,0.55,0.46,0.66,0.83,0.58,0.63,0.21,0.27,0.19,0.46,0.49,0.33,0.38,0.29,0.29,0.33,0.49];

// tick labels
const priceTicks = [[2800,3000,3200,3400,3600,3800,4000,4200],[8000,8500,9000,9500,10000,10500,11000],[1500,1600,1700,1800,1900],[3200,3400,3600,3800,4000,4200,4400,4600],[1800,2000,2200,2400,2600,2800],[2200,2400,2600,2800,3000,3200,3400,3600],[8000,9000,10000,11000,12000],[1200,1300,1400,1500,1600,1700,1800],[3000,3500,4000,4500,5000],[2500,2750,3000,3250,3500,3750,4000,4250]];
const volTicks = [[1,2,3],[200000,400000,600000],[5,10,15],[1,2,3],[5,10,15,20],[1,2,3],[1,2,3,4],[0.5,1.0],[1,2],[1,2,3,4]];

// ---------- LAYOUT (not data) ----------
const panels = [
 {o:ohlc3186,v:vol3186,pr:[2740,4340],vr:[0.1,3.3],pt:10,pb:416,vb:578,r:75,ty:53,tx:417,vg:28,pg:54,vn:'Volume  10⁶'},
 {o:ohlc3288,v:vol3288,pr:[7773,11455],vr:[44000,777000],pt:11,pb:410,vb:570,r:87,ty:53,tx:409,vg:60,pg:62,vn:'Volume'},
 {o:ohlc3407,v:vol3407,pr:[1434,1911],vr:[0.87,17.5],pt:2,pb:408,vb:570,r:75,ty:44,tx:417,vg:34,pg:54,vn:'Volume  10⁶'},
 {o:ohlc4061,v:vol4061,pr:[3058,4708],vr:[0.14,3.77],pt:4,pb:410,vb:572,r:75,ty:46,tx:417,vg:28,pg:54,vn:'Volume  10⁶'},
 {o:ohlc4088,v:vol4088,pr:[1711,2962],vr:[0.36,23.7],pt:6,pb:411,vb:574,r:75,ty:49,tx:417,vg:34,pg:54,vn:'Volume  10⁶'},
 {o:ohlc4099,v:vol4099,pr:[2079,3774],vr:[0.05,3.57],pt:7,pb:414,vb:576,r:75,ty:50,tx:417,vg:28,pg:54,vn:'Volume  10⁶'},
 {o:ohlc4186,v:vol4186,pr:[7098,12937],vr:[0.15,4.57],pt:10,pb:411,vb:573,r:80,ty:51,tx:413,vg:28,pg:63,vn:'Volume  10⁶'},
 {o:ohlc4320,v:vol4320,pr:[1129,1866],vr:[0.016,1.24],pt:6,pb:411,vb:574,r:75,ty:48,tx:416,vg:36,pg:54,vn:'Volume  10⁶'},
 {o:ohlc4368,v:vol4368,pr:[2621,5024],vr:[0.07,2.78],pt:10,pb:416,vb:579,r:75,ty:52,tx:417,vg:28,pg:54,vn:'Volume  10⁶'},
 {o:ohlc4369,v:vol4369,pr:[2442,4477],vr:[0.07,4.43],pt:12,pb:416,vb:577,r:75,ty:55,tx:417,vg:28,pg:54,vn:'Volume  10⁶'}
];

const RED='#d23a3a', BLUE='#1e88e5', GRID='#dcdcdc';
const LF="'DejaVu Sans',sans-serif";
const tickIdx = i => i % 20 === 0;
function ma(rows,n){return rows.map((r,i)=>{if(i<n-1)return '-';let s=0;for(let k=i-n+1;k<=i;k++)s+=rows[k][1];return +(s/n).toFixed(2);});}

const option={animation:false,backgroundColor:'#fff',title:[],grid:[],xAxis:[],yAxis:[],series:[]};
panels.forEach((p,k)=>{
  const off=640*k, gi=2*k;
  option.title.push({text:titles[k],left:p.tx,top:off+p.ty-14,textAlign:'center',
    textStyle:{fontFamily:"'Noto Sans CJK JP',sans-serif",fontWeight:'bold',fontSize:20,color:'#000'}});
  option.grid.push({left:31,right:p.r,top:off+p.pt,height:p.pb-p.pt,show:true,backgroundColor:'#f9f9f9',borderWidth:0});
  option.grid.push({left:31,right:p.r,top:off+p.pb+2,height:p.vb-p.pb-2,show:true,backgroundColor:'#f9f9f9',borderWidth:0});
  option.xAxis.push({type:'category',gridIndex:gi,data:dates,boundaryGap:true,axisLine:{show:false},axisTick:{show:false},axisLabel:{show:false},splitLine:{show:false}});
  option.xAxis.push({type:'category',gridIndex:gi+1,data:dates,boundaryGap:true,axisLine:{show:false},
    axisTick:{show:true,interval:tickIdx,alignWithLabel:true,length:5,lineStyle:{color:'#333'}},
    axisLabel:{interval:tickIdx,rotate:45,fontSize:13,color:'#222',fontFamily:LF,margin:8},splitLine:{show:false}});
  const pt=priceTicks[k], vt=volTicks[k];
  option.yAxis.push({type:'value',gridIndex:gi,position:'right',min:p.pr[0],max:p.pr[1],scale:true,
    axisLine:{show:false},splitLine:{show:false},
    axisTick:{show:true,customValues:pt,length:5,lineStyle:{color:'#333'}},
    axisLabel:{customValues:pt,fontSize:13,color:'#222',fontFamily:LF,margin:5,formatter:v=>String(v)},
    name:'価格',nameLocation:'middle',nameRotate:-90,nameGap:p.pg,nameTextStyle:{fontSize:13,color:'#222',fontFamily:"'Noto Sans CJK JP',sans-serif"}});
  option.yAxis.push({type:'value',gridIndex:gi+1,position:'right',min:p.vr[0],max:p.vr[1],
    axisLine:{show:false},splitLine:{show:false},
    axisTick:{show:true,customValues:vt,length:5,lineStyle:{color:'#333'}},
    axisLabel:{customValues:vt,fontSize:13,color:'#222',fontFamily:LF,margin:5,formatter:v=>k===7?v.toFixed(1):String(v)},
    name:p.vn,nameLocation:'middle',nameRotate:90,nameGap:p.vg,nameTextStyle:{fontSize:13,color:'#222',fontFamily:LF}});
  const vLines=[0,20,40,60,80,100,120].map(i=>({xAxis:dates[i]}));
  const ml=(vals)=>({silent:true,symbol:'none',label:{show:false},animation:false,lineStyle:{color:GRID,width:1.3,type:'solid'},
    data:vals.map(v=>({yAxis:v})).concat(vLines)});
  option.series.push({type:'scatter',xAxisIndex:gi,yAxisIndex:gi,data:[],z:1,markLine:ml(pt)});
  option.series.push({type:'scatter',xAxisIndex:gi+1,yAxisIndex:gi+1,data:[],z:1,markLine:ml(vt)});
  option.series.push({type:'candlestick',xAxisIndex:gi,yAxisIndex:gi,data:p.o,barWidth:'58%',z:3,
    itemStyle:{color:RED,color0:BLUE,borderColor:RED,borderColor0:BLUE,borderWidth:1}});
  [[5,'#1f77b4'],[20,'#ff7f0e'],[60,'#2ca02c']].forEach(([n,c])=>{
    option.series.push({type:'line',xAxisIndex:gi,yAxisIndex:gi,data:ma(p.o,n),showSymbol:false,symbol:'none',z:4,
      lineStyle:{color:c,width:1.1},itemStyle:{color:c}});
  });
  option.series.push({type:'bar',xAxisIndex:gi+1,yAxisIndex:gi+1,barCategoryGap:'0%',z:3,
    data:p.v.map((v,i)=>{const r=p.o[i];const up=r&&r[1]>=r[0];
      return {value:v,itemStyle:{color:up?RED:BLUE,borderColor:up?'#8a2020':'#155a9a',borderWidth:0.5}};})});
});
const chart=echarts.init(document.getElementById('c'),null,{renderer:'canvas'});
chart.setOption(option);
</script></body></html>
